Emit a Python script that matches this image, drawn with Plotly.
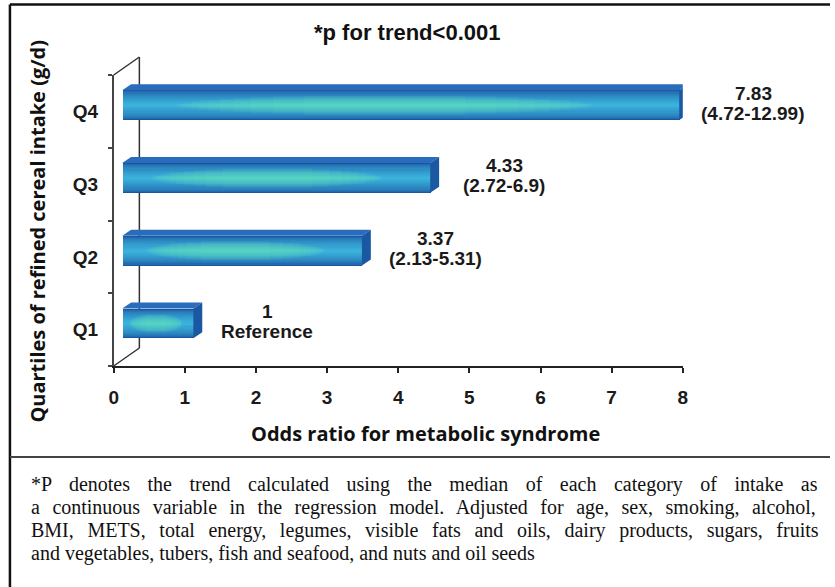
import numpy as np
import plotly.graph_objects as go

# ---------------- data ----------------
categories = ["Q1", "Q2", "Q3", "Q4"]
odds_ratios = [1.0, 3.37, 4.33, 7.83]
value_labels = ["1", "3.37", "4.33", "7.83"]
ci_labels = ["Reference", "(2.13-5.31)", "(2.72-6.9)", "(4.72-12.99)"]
x_ticks = [0, 1, 2, 3, 4, 5, 6, 7, 8]
title_text = "*p for trend<0.001"
x_title = "Odds ratio for metabolic syndrome"
y_title = "Quartiles of refined cereal intake (g/d)"
caption_lines = [
    "*P denotes the trend calculated using the median of each category of intake as",
    "a continuous variable in the regression model. Adjusted for age, sex, smoking, alcohol,",
    "BMI, METS, total energy, legumes, visible fats and oils, dairy products, sugars, fruits",
    "and vegetables, tubers, fish and seafood, and nuts and oil seeds",
]

# ---------------- geometry / style ----------------
W, H = 835, 587
XD = [110 / W, 686 / W]
YD = [(H - 366) / H, (H - 75) / H]
BAR_W = 0.41          # front-face thickness (category units)
DX, DY = 0.125, 0.083  # 3-D depth of bar top/side faces (data units)
SHIFT_X, SHIFT_Y = 0.12, 0.085  # bars sit slightly behind the front axes
SANS = "Liberation Sans, Arial, sans-serif"
TITLE_FONT = "Open Sans, Liberation Sans, sans-serif"
SERIF = "Liberation Serif, Times New Roman, serif"

vals = np.array(odds_ratios)
idx = np.arange(len(categories))


def lerp(c1, c2, t):
    return "rgb(%d,%d,%d)" % tuple(round(a + (b - a) * t) for a, b in zip(c1, c2))


fig = go.Figure()

# invisible trace to register the category axis
fig.add_trace(go.Scatter(x=vals, y=categories, mode="markers",
                         marker=dict(opacity=0), showlegend=False, hoverinfo="skip"))

# front faces: layered bars for a vertical gradient
edge_c, mid_c = (27, 84, 160), (58, 178, 220)
N = 14
for k in range(N):
    t = k / (N - 1)
    fig.add_trace(go.Bar(
        x=vals, y=idx, orientation="h", width=BAR_W * (1 - 0.94 * t),
        marker=dict(color=lerp(edge_c, mid_c, t ** 0.55), line=dict(width=0)),
        xaxis="x2", yaxis="y2", showlegend=False, hoverinfo="skip"))

# soft greenish glow in the middle of each bar (stacked translucent bars)
M = 12
for k in range(M):
    h = (k + 1) / (M + 1)
    frac = 0.75 * np.sqrt(1 - h ** 2)
    length = vals * frac
    fig.add_trace(go.Bar(
        x=length, base=vals * 0.47 - length / 2, y=idx, orientation="h",
        width=BAR_W * 0.7 * h,
        marker=dict(color="rgba(100,228,180,0.085)", line=dict(width=0)),
        xaxis="x2", yaxis="y2", showlegend=False, hoverinfo="skip"))

shapes = []
# top and side faces of the 3-D bars
for i, v in zip(idx, vals):
    yt, yb = i + BAR_W / 2, i - BAR_W / 2
    shapes.append(dict(type="path", xref="x2", yref="y2", layer="above",
                       path=f"M 0,{yt} L {v},{yt} L {v + DX},{yt + DY} L {DX},{yt + DY} Z",
                       fillcolor="#2a6cbc", line=dict(width=0)))
    shapes.append(dict(type="path", xref="x2", yref="y2", layer="above",
                       path=f"M {v},{yb} L {v},{yt} L {v + DX},{yt + DY} L {v + DX},{yb + DY} Z",
                       fillcolor="#1a58a2", line=dict(width=0)))

# back wall / floor edges of the 3-D frame
dxd, dyd = 26 / 576, 18 / 291
wall = dict(color="#333333", width=1.5)
for x0, y0, x1, y1 in [(0, 1, dxd, 1 + dyd), (dxd, 1 + dyd, dxd, dyd), (0, 0, dxd, dyd)]:
    shapes.append(dict(type="line", xref="x domain", yref="y domain", layer="below",
                       x0=x0, y0=y0, x1=x1, y1=y1, line=wall))

# outer frame and separator
shapes += [
    dict(type="line", xref="paper", yref="paper", x0=5 / W, x1=1, y0=1 - 4.5 / H, y1=1 - 4.5 / H,
         line=dict(color="#111", width=2.5)),
    dict(type="line", xref="paper", yref="paper", x0=5 / W, x1=5 / W, y0=0, y1=1 - 4.5 / H,
         line=dict(color="#111", width=2.5)),
    dict(type="line", xref="paper", yref="paper", x0=5 / W, x1=1, y0=1 - 457 / H, y1=1 - 457 / H,
         line=dict(color="#444", width=2)),
]

annotations = []
lab_font = dict(family=SANS, size=19, color="#1a1a1a", weight="bold")
for i, v, a, b in zip(idx, vals, value_labels, ci_labels):
    annotations.append(dict(x=v, y=i, xref="x2", yref="y2", text=a, showarrow=False,
                            xanchor="center", yanchor="middle", xshift=74, yshift=12, font=lab_font))
    annotations.append(dict(x=v, y=i, xref="x2", yref="y2", text=b, showarrow=False,
                            xanchor="center", yanchor="middle", xshift=74, yshift=-8, font=lab_font))

annotations.append(dict(x=407 / W, y=1 - 32 / H, xref="paper", yref="paper", text=title_text,
                        showarrow=False, xanchor="center", yanchor="middle",
                        font=dict(family=SANS, size=22, color="#111", weight="bold")))
annotations.append(dict(x=426 / W, y=1 - 433 / H, xref="paper", yref="paper", text=x_title,
                        showarrow=False, xanchor="center", yanchor="middle",
                        font=dict(family=TITLE_FONT, size=20, color="#111", weight="bold")))
annotations.append(dict(x=33 / W, y=1 - 231 / H, xref="paper", yref="paper", text=y_title,
                        showarrow=False, xanchor="center", yanchor="middle", textangle=-90,
                        font=dict(family=TITLE_FONT, size=20, color="#111", weight="bold")))

# caption (justified by word spacing)
word_sp = [12.5, 7.5, 8.6, 0]
for j, (line, ws) in enumerate(zip(caption_lines, word_sp)):
    annotations.append(dict(x=24 / W, y=1 - (484 + 23 * j) / H, xref="paper", yref="paper",
                            text=f'<span style="word-spacing:{ws}px">{line}</span>',
                            showarrow=False, xanchor="left", yanchor="middle",
                            font=dict(family=SERIF, size=20, color="#111")))

tick_font = dict(family=SANS, size=19, color="#1a1a1a", weight="bold")
fig.update_layout(
    width=W, height=H, margin=dict(l=0, r=0, t=0, b=0),
    paper_bgcolor="white", plot_bgcolor="rgba(0,0,0,0)",
    barmode="overlay", bargap=0, showlegend=False,
    xaxis=dict(domain=XD, range=[0, 8], tickvals=x_ticks, showline=True, linewidth=2,
               linecolor="#222", ticks="outside", ticklen=5, tickwidth=2, tickcolor="#222",
               showgrid=False, zeroline=False, tickfont=tick_font, ticklabelstandoff=8),
    yaxis=dict(domain=YD, type="category", categoryarray=categories, categoryorder="array",
               range=[-0.5, 3.5], showline=True, linewidth=1.5, linecolor="#444",
               ticks="outside", tickson="boundaries", ticklen=4, tickwidth=1.5, tickcolor="#444",
               showgrid=False, zeroline=False, tickfont=tick_font, ticklabelstandoff=10),
    xaxis2=dict(domain=XD, overlaying="x", range=[-SHIFT_X, 8 - SHIFT_X], visible=False,
                anchor="y2"),
    yaxis2=dict(domain=YD, overlaying="y", range=[-0.5 - SHIFT_Y, 3.5 - SHIFT_Y], visible=False,
                anchor="x2"),
    shapes=shapes, annotations=annotations,
)

fig.write_html("out.html", config={"displayModeBar": False},
               post_script="document.body.style.margin='0';document.body.style.overflow='hidden';")
